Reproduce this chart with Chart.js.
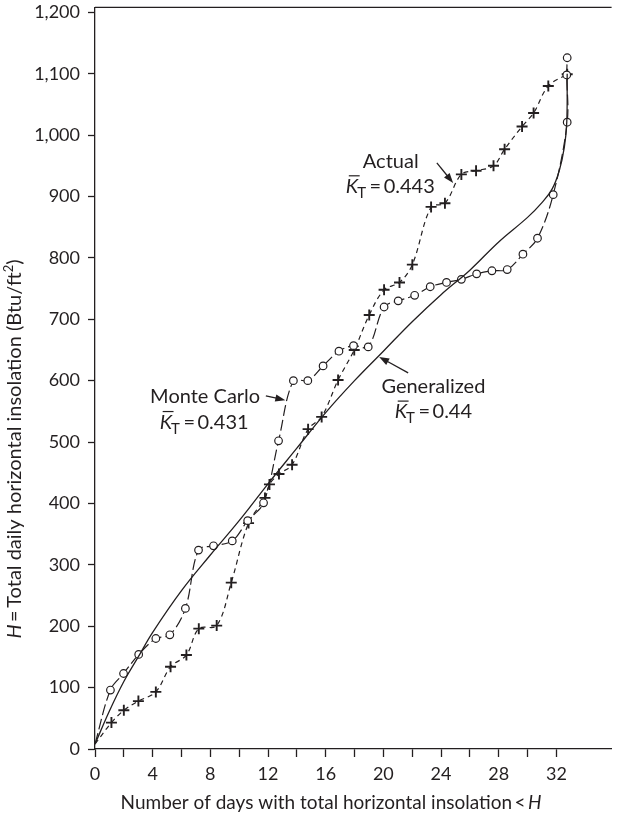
<!DOCTYPE html>
<html>
<head>
<meta charset="utf-8">
<script src="https://cdn.jsdelivr.net/npm/chart.js@4/dist/chart.umd.min.js"></script>
<style>
  html, body { margin: 0; padding: 0; background: #fff; }
  canvas { display: block; }
</style>
</head>
<body>
<canvas id="chart" width="619" height="816"></canvas>
<script>
// Cumulative distribution of daily horizontal insolation over one month

// Generalized K_T distribution curve
const generalizedDays = [0, 1, 2, 3, 4, 6, 8, 10, 12, 14, 16, 18, 20, 22, 24, 26, 28, 30, 31, 31.7, 32.2, 32.55, 32.72, 32.75];
const generalizedH    = [8, 62, 110, 150, 190, 258, 316, 372, 432, 490, 548, 600, 648, 696, 740, 780, 826, 866, 890, 912, 942, 980, 1021, 1100];

// Monte Carlo simulated days (open circles); first entry is the curve origin
const monteCarloDays = [0, 1.07, 1.98, 3.03, 4.22, 5.19, 6.27, 7.18, 8.22, 9.52, 10.59, 11.69, 12.73, 13.76, 14.76, 15.82, 16.92, 17.93, 18.95,
                        20.05, 21.03, 22.17, 23.25, 24.38, 25.41, 26.47, 27.53, 28.59, 29.68, 30.69, 31.78, 32.75, 32.72, 32.75];
const monteCarloH    = [8, 96, 123, 154, 180, 186, 229, 324, 331, 339, 372, 401, 502, 600, 600, 624, 648, 657, 655,
                        720, 730, 739, 753, 760, 765, 774, 779, 781, 806, 832, 903, 1021, 1098, 1126];

// Measured days (crosses); first entry is the curve origin
const actualDays = [0, 1.14, 2.0, 3.01, 4.22, 5.24, 6.34, 7.2, 8.44, 9.45, 10.65, 11.79, 12.1, 12.76, 13.67, 14.78, 15.72, 16.86, 17.98,
                    19.02, 20.05, 21.12, 22.01, 23.31, 24.27, 25.41, 26.43, 27.64, 28.41, 29.62, 30.42, 31.44, 32.75];
const actualH    = [8, 43, 63, 78, 93, 134, 153, 196, 201, 271, 368, 409, 431, 448, 463, 521, 541, 601, 650,
                    707, 748, 760, 789, 883, 889, 936, 942, 950, 977, 1014, 1036, 1080, 1099];

// Axis tick labels
const xTickLabels = [0, 4, 8, 12, 16, 20, 24, 28, 32];
const yTickValues = [0, 100, 200, 300, 400, 500, 600, 700, 800, 900, 1000, 1100, 1200];

const INK = '#231f20';
const FONT = 'Lato, "Noto Sans", sans-serif';

const toPoints = (xs, ys) => xs.map((x, i) => ({ x: x, y: ys[i] }));
const hideFirst = (r) => (ctx) => (ctx.dataIndex === 0 ? 0 : r);

// Callout labels, placed in data units (day, H)
const callouts = [
  { title: 'Actual',      kt: '0.443', titleAt: [20.51, 946.4], ktAt: [20.48, 906],   arrow: [[23.71, 954.6], [24.84, 922]] },
  { title: 'Monte Carlo', kt: '0.431', titleAt: [7.64, 563.8],  ktAt: [7.57, 522],    arrow: [[11.85, 575.2], [13.2, 568.2]] },
  { title: 'Generalized', kt: '0.44',  titleAt: [23.47, 579.6], ktAt: [23.47, 539],   arrow: [[21.72, 612.7], [19.71, 638.7]] }
];

function drawArrow(ctx, x1, y1, x2, y2) {
  const ang = Math.atan2(y2 - y1, x2 - x1);
  const len = 10, half = 3.6;
  ctx.beginPath();
  ctx.moveTo(x1, y1);
  ctx.lineTo(x2 - Math.cos(ang) * len * 0.8, y2 - Math.sin(ang) * len * 0.8);
  ctx.stroke();
  ctx.beginPath();
  ctx.moveTo(x2, y2);
  ctx.lineTo(x2 - Math.cos(ang) * len - Math.sin(ang) * half, y2 - Math.sin(ang) * len + Math.cos(ang) * half);
  ctx.lineTo(x2 - Math.cos(ang) * len + Math.sin(ang) * half, y2 - Math.sin(ang) * len - Math.cos(ang) * half);
  ctx.closePath();
  ctx.fill();
}

// K-bar with subscript T, then "= value", centred on cx
function drawKT(ctx, cx, base, value) {
  const fMain = '20px ' + FONT, fIt = 'italic 20px ' + FONT, fSub = '15px ' + FONT;
  const rest = '\u2009=\u2009' + value;
  ctx.font = fIt;  const wK = ctx.measureText('K').width;
  ctx.font = fSub; const wT = ctx.measureText('T').width;
  ctx.font = fMain; const wR = ctx.measureText(rest).width;
  const x0 = cx - (wK + wT + wR) / 2;
  ctx.textAlign = 'left';
  ctx.font = fIt;  ctx.fillText('K', x0, base);
  ctx.beginPath();
  ctx.moveTo(x0 + 3, base - 17);
  ctx.lineTo(x0 + wK + 1.5, base - 17);
  ctx.stroke();
  ctx.font = fSub; ctx.fillText('T', x0 + wK - 1, base + 5);
  ctx.font = fMain; ctx.fillText(rest, x0 + wK + wT, base);
}

const decorations = {
  id: 'decorations',
  afterDraw(chart) {
    const { ctx, chartArea, scales } = chart;
    const px = (d) => scales.x.getPixelForValue(d);
    const py = (h) => scales.y.getPixelForValue(h);
    ctx.save();
    ctx.strokeStyle = INK;
    ctx.fillStyle = INK;
    ctx.lineWidth = 1.3;

    // top frame line
    ctx.beginPath();
    ctx.moveTo(chartArea.left, chartArea.top);
    ctx.lineTo(chartArea.right, chartArea.top);
    ctx.stroke();

    // callouts
    ctx.textBaseline = 'alphabetic';
    callouts.forEach(c => {
      ctx.font = '20px ' + FONT;
      ctx.textAlign = 'center';
      ctx.fillText(c.title, px(c.titleAt[0]), py(c.titleAt[1]));
      ctx.lineWidth = 1.2;
      drawKT(ctx, px(c.ktAt[0]), py(c.ktAt[1]), c.kt);
      ctx.lineWidth = 1.3;
      drawArrow(ctx, px(c.arrow[0][0]), py(c.arrow[0][1]), px(c.arrow[1][0]), py(c.arrow[1][1]));
    });

    // x-axis title: "... insolation < H"
    ctx.textAlign = 'left';
    const xt = 'Number of days with total horizontal insolation\u2009<\u2009';
    ctx.font = '19px ' + FONT; const wX = ctx.measureText(xt).width;
    ctx.font = 'italic 19px ' + FONT; const wH = ctx.measureText('H').width;
    let x0 = 331 - (wX + wH) / 2;
    ctx.font = '19px ' + FONT; ctx.fillText(xt, x0, 809);
    ctx.font = 'italic 19px ' + FONT; ctx.fillText('H', x0 + wX, 809);

    // y-axis title: "H = Total daily horizontal insolation (Btu/ft2)"
    ctx.translate(21, 449);
    ctx.rotate(-Math.PI / 2);
    const parts = [
      { t: 'H', f: 'italic 20px ' + FONT, dy: 0 },
      { t: '\u2009=\u2009Total daily horizontal insolation (Btu/ft', f: '20px ' + FONT, dy: 0 },
      { t: '2', f: '13px ' + FONT, dy: -8 },
      { t: ')', f: '20px ' + FONT, dy: 0 }
    ];
    let total = 0;
    parts.forEach(p => { ctx.font = p.f; p.w = ctx.measureText(p.t).width; total += p.w; });
    let x = -total / 2;
    parts.forEach(p => { ctx.font = p.f; ctx.fillText(p.t, x, p.dy); x += p.w; });
    ctx.restore();
  }
};

new Chart(document.getElementById('chart'), {
  type: 'line',
  data: {
    datasets: [
      {
        label: 'Generalized',
        data: toPoints(generalizedDays, generalizedH),
        borderColor: INK, borderWidth: 1.3,
        pointRadius: 0, tension: 0.4, fill: false
      },
      {
        label: 'Monte Carlo',
        data: toPoints(monteCarloDays, monteCarloH),
        borderColor: INK, borderWidth: 1.2, borderDash: [11, 4],
        pointStyle: 'circle', pointRadius: hideFirst(3.8),
        pointBackgroundColor: '#fff', pointBorderColor: INK, pointBorderWidth: 1.2,
        tension: 0.35, fill: false
      },
      {
        label: 'Actual',
        data: toPoints(actualDays, actualH),
        borderColor: INK, borderWidth: 1.2, borderDash: [5, 4],
        pointStyle: 'cross', pointRadius: hideFirst(5.5),
        pointBorderColor: INK, pointBorderWidth: 1.9,
        tension: 0.35, fill: false
      }
    ]
  },
  options: {
    responsive: false,
    animation: false,
    events: [],
    layout: { padding: { top: 7, right: 0, bottom: 0, left: 0 } },
    plugins: { legend: { display: false }, tooltip: { enabled: false }, title: { display: false } },
    scales: {
      x: {
        type: 'linear', min: 0, max: 35.83,
        border: { color: INK, width: 1.3 },
        grid: {
          drawOnChartArea: false, tickLength: 8, tickWidth: 1.3,
          tickColor: (ctx) => (ctx.tick && ctx.tick.value > 32 ? 'rgba(0,0,0,0)' : INK)
        },
        ticks: {
          stepSize: 2, includeBounds: false, autoSkip: false, maxRotation: 0, padding: 6,
          color: INK, font: { family: FONT, size: 18 },
          callback: (v) => (xTickLabels.includes(v) ? String(v) : '')
        },
        afterFit: (s) => { s.height = 67; s.paddingLeft = 0; s.paddingRight = 0; }
      },
      y: {
        min: 0, max: 1208,
        border: { color: INK, width: 1.3 },
        grid: { drawOnChartArea: false, tickLength: 7, tickWidth: 1.3, tickColor: INK },
        afterBuildTicks: (s) => { s.ticks = yTickValues.map(v => ({ value: v })); },
        ticks: {
          padding: 8, color: INK, font: { family: FONT, size: 18 },
          callback: (v) => v.toLocaleString('en-US')
        },
        afterFit: (s) => { s.width = 95; s.paddingTop = 0; s.paddingBottom = 0; }
      }
    }
  },
  plugins: [decorations]
});
</script>
</body>
</html>
